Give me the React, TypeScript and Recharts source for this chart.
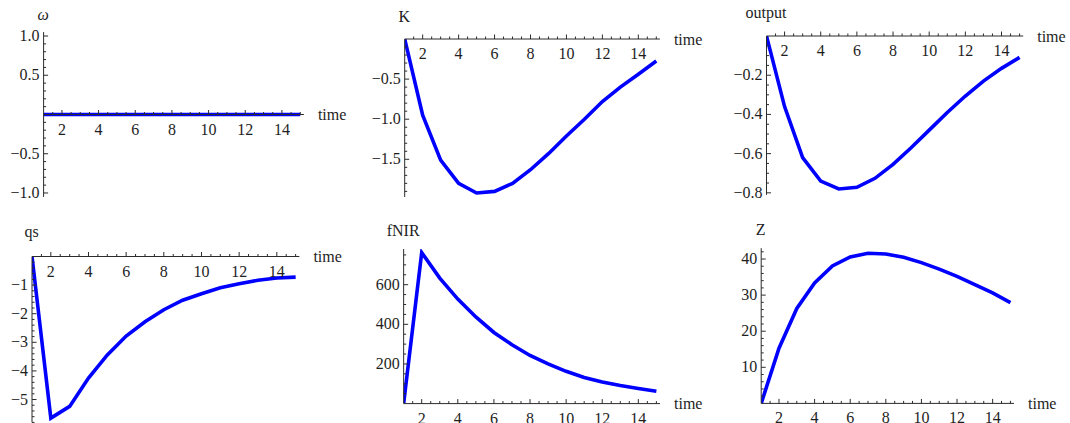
import React from 'react';
import { LineChart, Line, XAxis, YAxis, ReferenceLine, ReferenceDot } from 'recharts';

const time = [1, 2, 3, 4, 5, 6, 7, 8, 9, 10, 11, 12, 13, 14, 15];
const omegaValues = [0, 0, 0, 0, 0, 0, 0, 0, 0, 0, 0, 0, 0, 0, 0];
const kValues = [0, -0.95, -1.51, -1.8, -1.92, -1.9, -1.8, -1.63, -1.43, -1.21, -1.0, -0.78, -0.6, -0.44, -0.275];
const outputValues = [0, -0.36, -0.62, -0.74, -0.78, -0.772, -0.726, -0.655, -0.57, -0.48, -0.39, -0.306, -0.23, -0.165, -0.109];
const qsValues = [0, -5.65, -5.24, -4.25, -3.44, -2.78, -2.28, -1.86, -1.53, -1.3, -1.09, -0.95, -0.83, -0.75, -0.72];
const fnirValues = [0, 762, 633, 527, 437, 359, 297, 243, 200, 163, 132, 109, 91, 76, 62];
const zValues = [0, 15.3, 26.3, 33.4, 38.1, 40.6, 41.6, 41.4, 40.5, 39.0, 37.2, 35.2, 32.9, 30.6, 27.9];

const xMajorTicks = [2, 4, 6, 8, 10, 12, 14];
const xMinorTicks = [1.5, 2.5, 3, 3.5, 4.5, 5, 5.5, 6.5, 7, 7.5, 8.5, 9, 9.5, 10.5, 11, 11.5, 12.5, 13, 13.5, 14.5, 15];

const omegaMajor = [-1, -0.5, 0.5, 1];
const omegaLabels = ['\u22121.0', '\u22120.5', '0.5', '1.0'];
const kMajor = [-1.5, -1, -0.5];
const kLabels = ['\u22121.5', '\u22121.0', '\u22120.5'];
const outputMajor = [-0.8, -0.6, -0.4, -0.2];
const outputLabels = ['\u22120.8', '\u22120.6', '\u22120.4', '\u22120.2'];
const qsMajor = [-5, -4, -3, -2, -1];
const qsLabels = ['\u22125', '\u22124', '\u22123', '\u22122', '\u22121'];
const fnirMajor = [200, 400, 600];
const fnirLabels = ['200', '400', '600'];
const zMajor = [10, 20, 30, 40];
const zLabels = ['10', '20', '30', '40'];

const FONT = 'Liberation Serif, Times New Roman, Times, serif';
const AXIS = '#2b2b2b';
const TEXT = '#1e1e1e';
const BLUE = '#0000ff';
const FS = 16;
const YAXIS_W = 1;

function steps(start: number, stop: number, step: number): number[] {
  const out: number[] = [];
  const n = Math.round((stop - start) / step);
  for (let i = 0; i <= n; i++) out.push(Math.round((start + i * step) * 1e6) / 1e6);
  return out;
}

type Panel = {
  key: string;
  title: string;
  italic?: boolean;
  values: number[];
  yDomain: [number, number];
  yMajor: number[];
  yLabels: string[];
  yTicks: number[];
  cell: { left: number; top: number; w: number; h: number };
  plot: { x1: number; x2: number; y1: number; y2: number };
  titleOffset: number;
};

const panels: Panel[] = [
  {
    key: 'omega', title: '\u03c9', italic: true, values: omegaValues, yDomain: [-1.05, 1.05],
    yMajor: omegaMajor, yLabels: omegaLabels, yTicks: steps(-1, 1, 0.1).filter((v) => v !== 0),
    cell: { left: 0, top: 0, w: 357, h: 211 }, plot: { x1: 43.6, x2: 303.9, y1: 32.1, y2: 196.9 }, titleOffset: 12.5,
  },
  {
    key: 'K', title: 'K', values: kValues, yDomain: [-1.97, 0],
    yMajor: kMajor, yLabels: kLabels, yTicks: steps(-1.9, -0.1, 0.1),
    cell: { left: 357, top: 0, w: 356, h: 211 }, plot: { x1: 404.7, x2: 659.9, y1: 39, y2: 197 }, titleOffset: 17,
  },
  {
    key: 'output', title: 'output', values: outputValues, yDomain: [-0.81, 0],
    yMajor: outputMajor, yLabels: outputLabels, yTicks: steps(-0.8, -0.05, 0.05),
    cell: { left: 713, top: 0, w: 357, h: 211 }, plot: { x1: 766.5, x2: 1023.2, y1: 36, y2: 194.8 }, titleOffset: 18.5,
  },
  {
    key: 'qs', title: 'qs', values: qsValues, yDomain: [-5.8, 0],
    yMajor: qsMajor, yLabels: qsLabels, yTicks: steps(-5.8, -0.2, 0.2),
    cell: { left: 0, top: 211, w: 357, h: 212 }, plot: { x1: 32, x2: 299.4, y1: 256.5, y2: 422.4 }, titleOffset: 20,
  },
  {
    key: 'fNIR', title: 'fNIR', values: fnirValues, yDomain: [0, 780],
    yMajor: fnirMajor, yLabels: fnirLabels, yTicks: steps(50, 750, 50),
    cell: { left: 357, top: 211, w: 356, h: 212 }, plot: { x1: 403.65, x2: 660, y1: 249, y2: 403.6 }, titleOffset: 13,
  },
  {
    key: 'Z', title: 'Z', values: zValues, yDomain: [0, 43],
    yMajor: zMajor, yLabels: zLabels, yTicks: steps(2, 42, 2),
    cell: { left: 713, top: 211, w: 357, h: 212 }, plot: { x1: 761.2, x2: 1014, y1: 248.2, y2: 403.4 }, titleOffset: 13,
  },
];

const textStyle = { fontFamily: FONT, fontSize: FS };

const makeYTick = (majors: number[], labels: string[]) => (props: any) => {
  const { x, y, payload } = props;
  const idx = majors.findIndex((m) => Math.abs(m - payload.value) < 1e-6);
  const major = idx >= 0;
  return (
    <g>
      <line x1={x} y1={y} x2={x + (major ? 4.5 : 2.5)} y2={y} stroke={AXIS} strokeWidth={1} />
      {major && (
        <text x={x - 4} y={y + 5} textAnchor="end" fill={TEXT} style={textStyle}>
          {labels[idx]}
        </text>
      )}
    </g>
  );
};

const makeXTick = (v: number) => (p: any) => {
  const major = xMajorTicks.includes(v);
  return (
    <g>
      <line x1={p.cx} y1={p.cy} x2={p.cx} y2={p.cy - (major ? 4.5 : 2.5)} stroke={AXIS} strokeWidth={1} />
      {major && (
        <text x={p.cx} y={p.cy + 20} textAnchor="middle" fill={TEXT} style={textStyle}>
          {String(v)}
        </text>
      )}
    </g>
  );
};

function PanelChart({ panel }: { panel: Panel }) {
  const { cell, plot } = panel;
  const data = time.map((t, i) => ({ t, v: panel.values[i] }));
  const margin = {
    top: plot.y1 - cell.top,
    left: plot.x1 - cell.left - YAXIS_W,
    right: cell.left + cell.w - plot.x2,
    bottom: cell.top + cell.h - plot.y2,
  };
  const xTicks = [...xMajorTicks, ...xMinorTicks];
  return (
    <div style={{ position: 'absolute', left: cell.left, top: cell.top, width: cell.w, height: cell.h }}>
      <LineChart width={cell.w} height={cell.h} data={data} margin={margin} style={{ overflow: 'visible', fontFamily: FONT }}>
        <XAxis type="number" dataKey="t" domain={[1, 15.2]} allowDataOverflow hide />
        <YAxis
          type="number"
          domain={panel.yDomain}
          allowDataOverflow
          width={YAXIS_W}
          ticks={panel.yTicks}
          interval={0}
          tickSize={0}
          tickMargin={0}
          tickLine={false}
          axisLine={{ stroke: AXIS, strokeWidth: 1 }}
          tick={makeYTick(panel.yMajor, panel.yLabels)}
          label={{
            value: panel.title,
            position: 'top',
            offset: panel.titleOffset,
            fill: TEXT,
            style: { ...textStyle, fontStyle: panel.italic ? 'italic' : 'normal' },
          }}
        />
        <Line type="linear" dataKey="v" stroke={BLUE} strokeWidth={3.6} dot={false} isAnimationActive={false} />
        <ReferenceLine
          y={0}
          stroke={AXIS}
          strokeWidth={1}
          label={{ value: 'time', position: 'right', offset: 14, fill: TEXT, style: textStyle }}
        />
        {xTicks.map((v) => (
          <ReferenceDot key={v} x={v} y={0} r={0} shape={makeXTick(v)} />
        ))}
      </LineChart>
    </div>
  );
}

export default function App() {
  return (
    <div style={{ position: 'absolute', left: 0, top: 0, width: 1070, height: 423, background: '#ffffff', overflow: 'hidden' }}>
      {panels.map((p) => (
        <PanelChart key={p.key} panel={p} />
      ))}
    </div>
  );
}
